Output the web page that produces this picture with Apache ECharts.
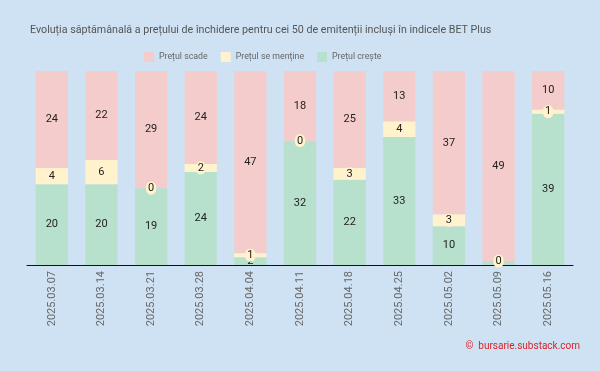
<!DOCTYPE html>
<html><head><meta charset="utf-8">
<script src="https://cdn.jsdelivr.net/npm/echarts@6/dist/echarts.min.js"></script>
<style>html,body{margin:0;padding:0;background:#cfe2f3}#c{width:600px;height:371px}</style>
</head><body><div id="c"></div>
<script>
const categories = ['2025.03.07','2025.03.14','2025.03.21','2025.03.28','2025.04.04','2025.04.11','2025.04.18','2025.04.25','2025.05.02','2025.05.09','2025.05.16'];
const scade = [24,22,29,24,47,18,25,13,37,49,10];
const mentine = [4,6,0,2,1,0,3,4,3,0,1];
const creste = [20,20,19,24,2,32,22,33,10,1,39];

const totals = categories.map((_, i) => scade[i] + mentine[i] + creste[i]);
const pct = arr => arr.map((v, i) => ({ value: v / totals[i] * 100, raw: v }));

const chart = echarts.init(document.getElementById('c'));
const lbl = {
  show: true, position: 'inside', color: '#222', fontSize: 11, fontFamily: 'Roboto',
  formatter: p => String(p.data.raw)
};
chart.setOption({
  backgroundColor: '#cfe2f3',
  title: {
    text: 'Evoluția săptămânală a prețului de închidere pentru cei 50 de emitenții incluși în indicele BET Plus',
    left: 25, top: 20,
    textStyle: { fontSize: 10.7, fontWeight: 'normal', color: '#555', fontFamily: 'Roboto' }
  },
  legend: {
    top: 47, left: 139, itemWidth: 10, itemHeight: 10, itemGap: 13,
    icon: 'rect',
    textStyle: { fontSize: 8.8, color: '#666', fontFamily: 'Roboto' },
    data: ['Prețul scade', 'Prețul se menține', 'Prețul crește']
  },
  grid: { left: 27, right: 27, top: 71, bottom: 106 },
  xAxis: {
    type: 'category', data: categories,
    axisLine: { lineStyle: { color: '#111', width: 1 } },
    axisTick: { show: false },
    axisLabel: { rotate: 90, color: '#666', fontSize: 11, fontFamily: 'Roboto', margin: 6 }
  },
  yAxis: { type: 'value', min: 0, max: 100, show: false, splitLine: { show: false } },
  series: [
    { name: 'Prețul crește', type: 'bar', stack: 's', barCategoryGap: '35%', data: pct(creste),
      itemStyle: { color: '#b7e1cd' }, label: lbl, z: 2 },
    { name: 'Prețul se menține', type: 'bar', stack: 's', data: pct(mentine),
      itemStyle: { color: '#fff2cc' },
      label: Object.assign({}, lbl, { backgroundColor: '#fff2cc', borderRadius: 6, padding: [1, 2] }), z: 3 },
    { name: 'Prețul scade', type: 'bar', stack: 's', data: pct(scade),
      itemStyle: { color: '#f4cccc' }, label: lbl, z: 2 }
  ],
  graphic: [{
    type: 'text', right: 20, top: 341,
    style: { text: '©  bursarie.substack.com', fill: '#d9232a', fontSize: 10, fontFamily: 'Roboto' }
  }]
});
</script></body></html>
